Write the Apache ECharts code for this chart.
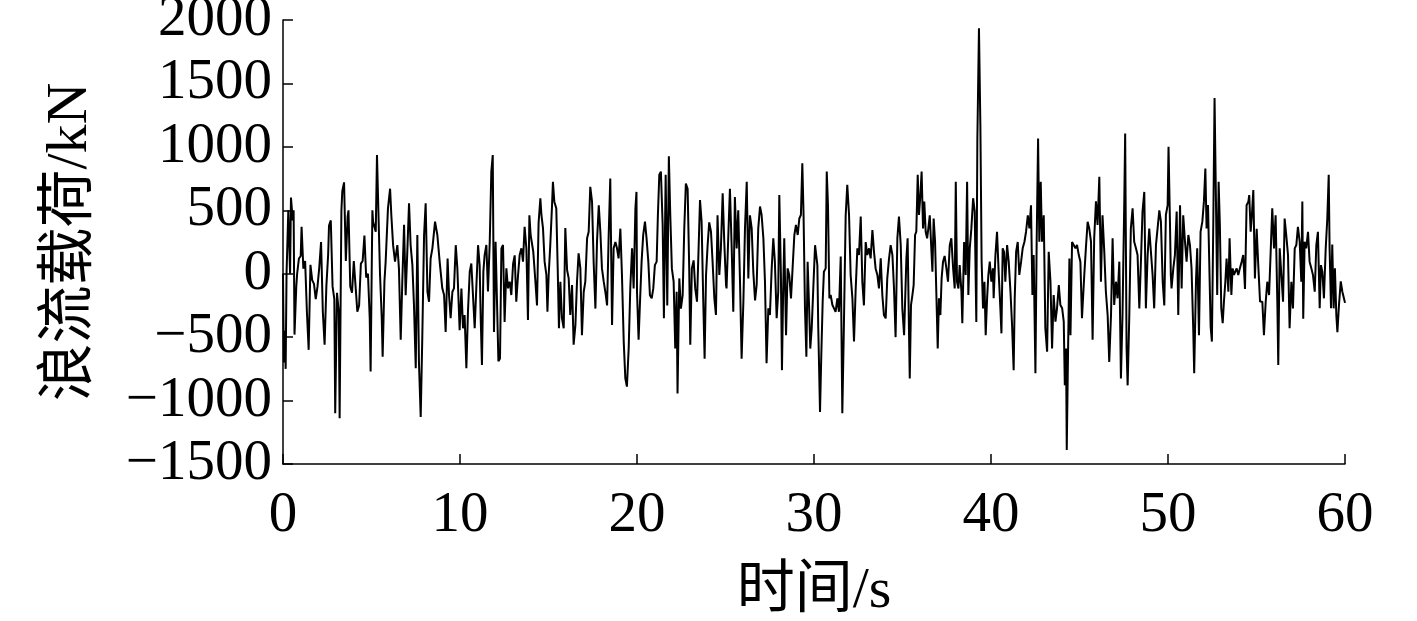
<!DOCTYPE html>
<html><head><meta charset="utf-8">
<script src="https://cdn.jsdelivr.net/npm/echarts@6/dist/echarts.min.js"></script>
<style>html,body{margin:0;padding:0;background:#fff}#c{width:1417px;height:621px}</style>
</head><body><div id="c"></div>
<script>
var xTicks = [0, 10, 20, 30, 40, 50, 60];
var yTicks = [-1500, -1000, -500, 0, 500, 1000, 1500, 2000];
var xName = '时间/s';
var yName = '浪流载荷/kN';

var time = [
0,0.05,0.1,0.15,0.2,0.3,0.4,0.45,0.55,0.6,0.65,0.75,0.8,0.9,1.0,1.05,1.15,1.25,1.35,1.45,1.55,1.65,1.75,1.85,1.95,2.05,2.15,2.25,2.35,2.45,2.55,2.6,2.7,2.8,2.9,2.95,3.05,3.15,3.2,3.3,3.35,3.45,3.55,3.65,3.7,3.8,3.9,4.0,4.1,4.2,4.3,4.4,4.5,4.6,4.7,4.8,4.9,4.95,
5.01,5.05,5.09,5.24,5.31,5.39,5.48,5.58,5.63,5.73,5.8,5.93,6.05,6.12,6.22,6.33,6.46,6.55,6.65,6.74,6.84,6.93,7.03,7.12,7.21,7.31,7.40,7.50,7.59,7.68,7.78,7.87,7.97,8.06,8.16,8.25,8.34,8.44,8.59,8.72,8.86,9.0,9.1,9.19,9.30,9.38,9.47,9.57,9.66,9.76,9.85,9.98,
10.08,10.17,10.26,10.36,10.45,10.55,10.64,10.73,10.83,10.92,11.02,11.11,11.17,11.24,11.32,11.39,11.49,11.58,11.68,11.77,11.85,11.92,12.01,12.11,12.17,12.26,12.34,12.43,12.52,12.62,12.71,12.81,12.90,13.0,13.09,13.18,13.28,13.37,13.47,13.56,13.65,13.75,13.84,13.92,13.99,14.07,14.14,14.26,14.35,14.44,14.54,14.6,14.69,14.78,14.88,
14.94,15.01,15.1,15.2,15.25,15.33,15.44,15.52,15.59,15.67,15.76,15.86,15.95,16.05,16.14,16.23,16.33,16.42,16.52,16.61,16.70,16.80,16.89,16.99,17.08,17.18,17.27,17.36,17.46,17.55,17.65,17.74,17.84,17.93,18.02,18.12,18.21,18.31,18.40,18.49,18.59,18.68,18.78,18.87,18.96,19.06,19.15,19.25,19.34,19.43,19.53,19.62,19.72,19.81,19.91,19.97,
20.0,20.09,20.17,20.26,20.35,20.45,20.54,20.64,20.73,20.83,20.92,21.01,21.11,21.18,21.26,21.35,21.45,21.52,21.62,21.71,21.80,21.88,21.97,22.07,22.16,22.24,22.29,22.39,22.48,22.58,22.67,22.76,22.86,22.95,23.01,23.1,23.2,23.29,23.39,23.48,23.56,23.65,23.74,23.82,23.9,23.99,24.08,24.18,24.27,24.37,24.46,24.55,24.65,24.74,24.84,24.93,25.03,
25.06,25.16,25.25,25.35,25.44,25.53,25.63,25.72,25.82,25.91,26.01,26.1,26.2,26.29,26.38,26.48,26.57,26.67,26.76,26.85,26.95,27.04,27.14,27.23,27.32,27.42,27.51,27.61,27.70,27.79,27.89,27.98,28.04,28.13,28.19,28.26,28.32,28.42,28.51,28.6,28.7,28.79,28.89,28.98,29.08,29.17,29.26,29.34,29.41,29.49,29.57,29.64,29.72,29.79,29.87,29.96,30.06,
30.19,30.24,30.34,30.41,30.49,30.56,30.66,30.72,30.79,30.87,30.94,31.04,31.13,31.22,31.32,31.41,31.51,31.60,31.69,31.79,31.88,31.98,32.07,32.17,32.26,32.35,32.45,32.54,32.64,32.73,32.82,32.92,33.01,33.11,33.2,33.3,33.39,33.48,33.58,33.67,33.77,33.86,33.95,34.05,34.14,34.24,34.33,34.43,34.52,34.61,34.71,34.8,34.9,34.99,35.09,
35.22,35.29,35.37,35.41,35.48,35.56,35.63,35.71,35.78,35.86,35.93,36.01,36.08,36.16,36.23,36.31,36.39,36.46,36.54,36.61,36.69,36.76,36.84,36.91,36.99,37.06,37.14,37.21,37.29,37.38,37.48,37.57,37.67,37.76,37.86,37.95,38.01,38.08,38.16,38.23,38.33,38.38,38.48,38.57,38.65,38.72,38.80,38.89,38.99,39.08,39.17,39.23,39.32,39.4,39.47,39.55,39.63,39.70,39.78,39.85,39.93,40.02,40.11,
40.15,40.25,40.34,40.44,40.53,40.59,40.66,40.74,40.81,40.91,41.00,41.1,41.19,41.28,41.34,41.42,41.51,41.6,41.7,41.79,41.89,41.98,42.08,42.17,42.26,42.34,42.41,42.51,42.58,42.66,42.73,42.81,42.88,42.98,43.07,43.17,43.26,43.36,43.45,43.54,43.64,43.73,43.83,43.92,44.02,44.11,44.17,44.24,44.28,44.35,44.43,44.49,44.58,44.67,44.77,44.86,44.96,45.05,45.14,
45.27,45.36,45.46,45.55,45.65,45.74,45.83,45.93,46.02,46.12,46.21,46.3,46.4,46.49,46.59,46.68,46.78,46.87,46.96,47.06,47.15,47.25,47.34,47.43,47.53,47.58,47.66,47.72,47.81,47.9,48.0,48.09,48.19,48.28,48.38,48.47,48.56,48.66,48.75,48.85,48.94,49.03,49.13,49.22,49.32,49.41,49.51,49.6,49.7,49.79,49.88,49.98,50.03,50.11,50.16,
50.2,50.3,50.39,50.49,50.58,50.68,50.77,50.86,50.96,51.05,51.15,51.24,51.33,51.43,51.48,51.58,51.65,51.75,51.84,51.94,52.03,52.11,52.18,52.26,52.33,52.41,52.48,52.56,52.63,52.71,52.78,52.86,52.93,53.01,53.09,53.16,53.24,53.31,53.41,53.48,53.58,53.65,53.73,53.8,53.88,53.97,54.06,54.16,54.25,54.35,54.44,54.54,54.59,54.67,54.74,54.82,54.91,55.01,55.1,55.2,
55.33,55.42,55.52,55.61,55.71,55.8,55.89,55.99,56.08,56.18,56.23,56.31,56.40,56.50,56.59,56.68,56.78,56.87,56.97,57.06,57.16,57.25,57.34,57.44,57.53,57.59,57.64,57.72,57.81,57.91,58.0,58.1,58.19,58.29,58.38,58.47,58.57,58.64,58.72,58.81,58.91,59.0,59.08,59.13,59.21,59.28,59.36,59.43,59.51,59.57,59.66,59.76,59.85,59.94,60.0
];

var load = [
0,-700,-450,-750,0,500,0,600,420,500,-480,-100,0,120,140,370,40,100,-300,-600,70,-50,-80,-200,-100,50,250,-300,-560,-100,150,380,420,-100,-200,-1100,-150,-300,-1140,500,650,720,100,450,500,-100,-150,100,-100,-300,-250,80,100,300,-30,0,-350,-770,
0,500,410,330,935,490,0,-355,-655,-63,95,515,670,463,225,95,226,42,-520,-63,385,-170,200,555,226,68,-250,-745,305,-695,-1130,-500,305,555,-140,-221,120,200,410,305,81,-115,-168,-460,120,-168,-350,-142,-116,225,42,-445,
-116,-430,-326,-745,-300,16,81,95,-430,-116,225,68,-350,-720,16,145,226,-140,250,805,935,-460,252,250,-690,-668,200,226,-380,42,-115,-63,-168,80,145,-220,-10,147,200,95,370,200,-365,460,305,292,173,-63,-250,400,595,463,357,95,-10,
-300,-10,225,540,725,568,515,42,-430,-63,-350,-430,360,29,-37,-325,-89,-560,-405,-63,160,42,-485,-142,-63,280,331,685,568,95,-275,252,540,331,42,-63,-142,-250,305,750,-405,200,250,200,121,355,-10,-535,-825,-890,-589,-116,200,-116,515,645,
-142,-520,-221,95,305,410,279,95,-170,-194,-116,68,95,460,780,805,384,-350,780,-250,925,463,42,-63,-590,-142,-945,-37,-275,-168,355,710,670,42,-560,42,105,-116,-220,200,580,410,-194,-670,-10,225,405,331,95,-195,-325,460,-10,200,635,252,-89,
-116,305,670,200,-300,605,200,500,-63,-670,-221,355,725,-37,460,357,16,-210,-89,355,530,463,279,-63,-705,-273,-326,42,280,95,-350,-142,620,-10,-760,-116,280,-485,42,-10,-194,42,305,385,305,435,463,870,463,-273,-655,95,-247,-590,-431,-116,225,
68,-420,-1090,-655,-221,16,42,805,540,-194,-168,-247,-273,-300,-194,-300,135,-1100,-405,460,700,463,-10,-194,-535,-142,200,147,450,-63,-250,250,147,200,121,345,173,42,-10,-116,121,-168,-325,-352,-37,121,225,147,-116,-500,280,450,226,-273,-485,
120,280,-484,-825,-247,-168,-89,305,331,780,463,620,805,357,568,331,279,357,460,252,16,435,252,-142,-590,-194,-326,-37,95,140,42,-63,225,279,42,-116,725,-63,-116,68,-142,-390,250,-10,725,-168,200,355,595,489,-380,1065,1935,1165,95,-273,-63,-485,-194,-10,95,-63,42,
-194,147,330,-10,-273,-470,200,170,-63,225,95,-142,-405,-760,-194,173,250,-10,95,200,252,331,460,357,540,-168,147,-785,252,1065,252,725,252,460,-430,-615,173,-63,-590,-168,-378,-273,-89,-247,-273,-378,-880,-589,-1390,-644,120,-484,250,265,200,226,147,95,-350,
-10,200,410,357,252,-520,279,570,384,765,-63,460,173,-142,-326,-695,-326,280,-247,-63,-194,95,-825,-326,570,1105,-589,-880,-352,355,515,252,200,147,-273,95,490,645,-273,147,355,357,-10,-273,226,226,500,410,-63,-250,463,541,1000,410,-10,
-116,42,147,490,-326,540,-116,460,252,95,305,226,42,-460,-785,-63,200,-484,330,410,570,830,357,541,95,-420,-535,410,1385,568,-168,725,384,-273,-390,-221,-63,120,-142,280,-168,42,-10,16,42,-10,42,95,147,-120,540,568,620,331,463,660,-37,355,68,-220,
-221,-485,-221,-63,-168,170,515,200,460,-247,-720,200,200,-221,435,305,147,-430,-63,-273,200,226,370,252,-63,570,-355,252,200,330,95,42,-10,-142,226,330,-273,68,16,-194,200,435,780,200,-273,230,-273,42,-326,-460,-247,-60,-142,-194,-230
];

var seriesData = time.map(function (t, i) { return [t, load[i]]; });

var serif = '"Liberation Serif", "Times New Roman", "Noto Sans CJK SC", serif';
var chart = echarts.init(document.getElementById('c'), null, {renderer: 'canvas'});
chart.setOption({
  animation: false,
  backgroundColor: '#fff',
  grid: {left: 283, right: 72, top: 20, bottom: 157, containLabel: false, outerBoundsMode: 'none'},
  xAxis: {
    type: 'value', min: xTicks[0], max: xTicks[xTicks.length - 1], interval: 10,
    name: xName, nameLocation: 'middle', nameGap: 99,
    nameTextStyle: {fontFamily: serif, fontSize: 58, color: '#000'},
    axisLine: {show: true, onZero: false, lineStyle: {color: '#000', width: 1.5}},
    axisTick: {show: true, inside: true, length: 10, lineStyle: {color: '#000', width: 1.5}},
    axisLabel: {fontFamily: serif, fontSize: 57, color: '#000', margin: 24},
    splitLine: {show: false}
  },
  yAxis: {
    type: 'value', min: yTicks[0], max: yTicks[yTicks.length - 1], interval: 500,
    name: yName, nameLocation: 'middle', nameGap: 183, nameRotate: 90,
    nameTextStyle: {fontFamily: serif, fontSize: 58, color: '#000'},
    axisLine: {show: true, lineStyle: {color: '#000', width: 1.5}},
    axisTick: {show: true, inside: true, length: 10, lineStyle: {color: '#000', width: 1.5}},
    axisLabel: {fontFamily: serif, fontSize: 57, color: '#000', margin: 11,
      formatter: function (v) { return v < 0 ? '\u2212' + Math.abs(v) : String(v); }},
    splitLine: {show: false}
  },
  series: [{
    type: 'line', data: seriesData, showSymbol: false, symbol: 'none',
    lineStyle: {color: '#000', width: 2}, z: 3
  }]
});
</script></body></html>
